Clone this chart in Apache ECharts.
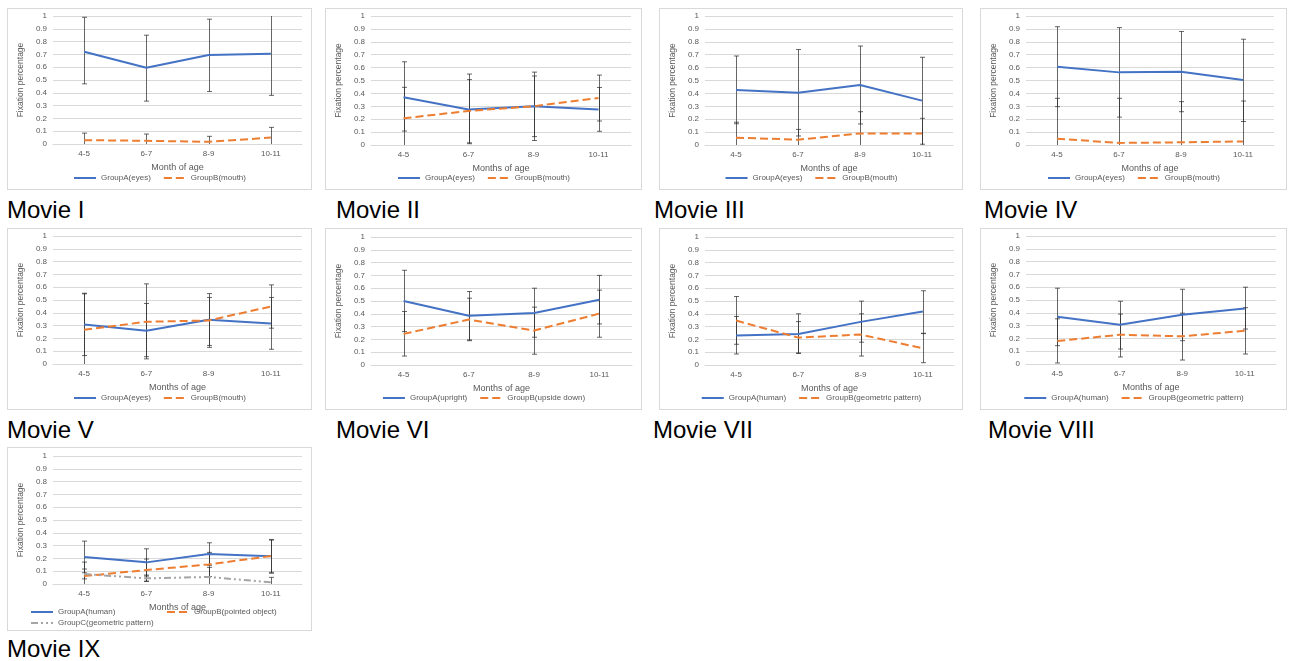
<!DOCTYPE html>
<html>
<head>
<meta charset="utf-8">
<script src="https://cdn.jsdelivr.net/npm/echarts@6/dist/echarts.min.js"></script>
<style>
  body { margin: 0; background: #fff; width: 1290px; height: 661px; position: relative; overflow: hidden; font-family: "Liberation Sans", Arial, sans-serif; }
  .panel { position: absolute; border: 1px solid #d9d9d9; box-sizing: border-box; background: #fff; }
  .title { position: absolute; font-size: 24px; line-height: 24px; color: #000; white-space: nowrap; }
</style>
</head>
<body>
<div id="root"></div>
<script>
// categories
const ages = ['4-5', '6-7', '8-9', '10-11'];

// Movie I
const m1A = [0.72, 0.595, 0.695, 0.705];
const m1ALow = [0.47, 0.335, 0.41, 0.38];
const m1AHigh = [0.99, 0.85, 0.975, 1.03];
const m1B = [0.03, 0.025, 0.017, 0.05];
const m1BLow = [-0.025, -0.03, -0.025, -0.03];
const m1BHigh = [0.085, 0.078, 0.06, 0.13];

// Movie II
const m2A = [0.37, 0.276, 0.30, 0.276];
const m2ALow = [0.108, 0.01, 0.035, 0.106];
const m2AHigh = [0.645, 0.55, 0.565, 0.446];
const m2B = [0.207, 0.264, 0.30, 0.364];
const m2BLow = [-0.03, 0.017, 0.065, 0.186];
const m2BHigh = [0.447, 0.507, 0.535, 0.542];

// Movie III
const m3A = [0.426, 0.405, 0.465, 0.344];
const m3ALow = [0.165, 0.07, 0.163, 0.006];
const m3AHigh = [0.69, 0.74, 0.767, 0.68];
const m3B = [0.057, 0.041, 0.09, 0.09];
const m3BLow = [-0.06, -0.04, -0.08, -0.027];
const m3BHigh = [0.177, 0.121, 0.258, 0.207];

// Movie IV
const m4A = [0.607, 0.563, 0.568, 0.504];
const m4ALow = [0.297, 0.216, 0.258, 0.182];
const m4AHigh = [0.917, 0.91, 0.88, 0.82];
const m4B = [0.049, 0.016, 0.021, 0.028];
const m4BLow = [-0.26, -0.33, -0.29, -0.285];
const m4BHigh = [0.362, 0.362, 0.336, 0.341];

// Movie V
const m5A = [0.309, 0.26, 0.345, 0.317];
const m5ALow = [0.066, 0.057, 0.145, 0.115];
const m5AHigh = [0.553, 0.473, 0.55, 0.52];
const m5B = [0.268, 0.33, 0.34, 0.449];
const m5BLow = [-0.012, 0.04, 0.13, 0.28];
const m5BHigh = [0.548, 0.626, 0.52, 0.618];

// Movie VI
const m6A = [0.50, 0.384, 0.407, 0.509];
const m6ALow = [0.261, 0.196, 0.217, 0.321];
const m6AHigh = [0.74, 0.574, 0.60, 0.70];
const m6B = [0.243, 0.355, 0.269, 0.402];
const m6BLow = [0.07, 0.19, 0.084, 0.217];
const m6BHigh = [0.418, 0.522, 0.452, 0.585];

// Movie VII
const m7A = [0.23, 0.243, 0.337, 0.418];
const m7ALow = [0.086, 0.094, 0.178, 0.248];
const m7AHigh = [0.379, 0.40, 0.499, 0.58];
const m7B = [0.347, 0.214, 0.238, 0.13];
const m7BLow = [0.162, 0.09, 0.07, 0.018];
const m7BHigh = [0.535, 0.339, 0.40, 0.245];

// Movie VIII
const m8A = [0.369, 0.306, 0.384, 0.434];
const m8ALow = [0.143, 0.117, 0.182, 0.273];
const m8AHigh = [0.592, 0.49, 0.584, 0.60];
const m8B = [0.179, 0.229, 0.216, 0.26];
const m8BLow = [0.008, 0.055, 0.031, 0.078];
const m8BHigh = [0.353, 0.39, 0.397, 0.44];

// Movie IX
const m9A = [0.21, 0.169, 0.234, 0.216];
const m9ALow = [0.088, 0.062, 0.146, 0.084];
const m9AHigh = [0.335, 0.275, 0.322, 0.348];
const m9B = [0.062, 0.109, 0.153, 0.218];
const m9BLow = [-0.048, 0.022, 0.058, 0.091];
const m9BHigh = [0.171, 0.195, 0.247, 0.343];
const m9C = [0.078, 0.044, 0.055, 0.013];
const m9CLow = [0.04, 0.02, -0.02, -0.027];
const m9CHigh = [0.117, 0.07, 0.13, 0.052];

const BLUE = '#4472c4';
const ORANGE = '#ed7d31';
const GREY = '#a5a5a5';
const TXT = '#595959';
const ERR = 'rgba(45,45,45,0.72)';

const panels = [
  { title: 'Movie I', tx: 7, ty: 198, box: [7, 8, 305, 182], grid: [39, 9, 7, 45], xName: 'Month of age',
    series: [
      { name: 'GroupA(eyes)', v: m1A, lo: m1ALow, hi: m1AHigh, color: BLUE, dash: 'solid' },
      { name: 'GroupB(mouth)', v: m1B, lo: m1BLow, hi: m1BHigh, color: ORANGE, dash: 'dashed' }
    ] },
  { title: 'Movie II', tx: 336, ty: 198, box: [325, 8, 317, 182], grid: [42, 10, 7, 44], xName: 'Months of age',
    series: [
      { name: 'GroupA(eyes)', v: m2A, lo: m2ALow, hi: m2AHigh, color: BLUE, dash: 'solid' },
      { name: 'GroupB(mouth)', v: m2B, lo: m2BLow, hi: m2BHigh, color: ORANGE, dash: 'dashed' }
    ] },
  { title: 'Movie III', tx: 654, ty: 198, box: [659, 8, 304, 182], grid: [39, 9, 7, 44], xName: 'Months of age',
    series: [
      { name: 'GroupA(eyes)', v: m3A, lo: m3ALow, hi: m3AHigh, color: BLUE, dash: 'solid' },
      { name: 'GroupB(mouth)', v: m3B, lo: m3BLow, hi: m3BHigh, color: ORANGE, dash: 'dashed' }
    ] },
  { title: 'Movie IV', tx: 984, ty: 198, box: [980, 8, 307, 182], grid: [39, 12, 7, 44], xName: 'Months of age',
    series: [
      { name: 'GroupA(eyes)', v: m4A, lo: m4ALow, hi: m4AHigh, color: BLUE, dash: 'solid' },
      { name: 'GroupB(mouth)', v: m4B, lo: m4BLow, hi: m4BHigh, color: ORANGE, dash: 'dashed' }
    ] },
  { title: 'Movie V', tx: 7, ty: 418, box: [7, 228, 305, 182], grid: [40, 9, 7, 45], xName: 'Months of age',
    series: [
      { name: 'GroupA(eyes)', v: m5A, lo: m5ALow, hi: m5AHigh, color: BLUE, dash: 'solid' },
      { name: 'GroupB(mouth)', v: m5B, lo: m5BLow, hi: m5BHigh, color: ORANGE, dash: 'dashed' }
    ] },
  { title: 'Movie VI', tx: 336, ty: 418, box: [325, 228, 317, 182], grid: [41, 9, 8, 44], xName: 'Months of age',
    series: [
      { name: 'GroupA(upright)', v: m6A, lo: m6ALow, hi: m6AHigh, color: BLUE, dash: 'solid' },
      { name: 'GroupB(upside down)', v: m6B, lo: m6BLow, hi: m6BHigh, color: ORANGE, dash: 'dashed' }
    ] },
  { title: 'Movie VII', tx: 653, ty: 418, box: [659, 228, 304, 182], grid: [39, 8, 8, 44], xName: 'Months of age',
    series: [
      { name: 'GroupA(human)', v: m7A, lo: m7ALow, hi: m7AHigh, color: BLUE, dash: 'solid' },
      { name: 'GroupB(geometric pattern)', v: m7B, lo: m7BLow, hi: m7BHigh, color: ORANGE, dash: 'dashed' }
    ] },
  { title: 'Movie VIII', tx: 988, ty: 418, box: [980, 228, 307, 182], grid: [40, 10, 7, 45], xName: 'Months of age',
    series: [
      { name: 'GroupA(human)', v: m8A, lo: m8ALow, hi: m8AHigh, color: BLUE, dash: 'solid' },
      { name: 'GroupB(geometric pattern)', v: m8B, lo: m8BLow, hi: m8BHigh, color: ORANGE, dash: 'dashed' }
    ] },
  { title: 'Movie IX', tx: 7, ty: 637, box: [7, 447, 305, 184], grid: [40, 9, 8, 46], xName: 'Months of age',
    legendRows: [[22, 160], [158, 160], [22, 171]],
    series: [
      { name: 'GroupA(human)', v: m9A, lo: m9ALow, hi: m9AHigh, color: BLUE, dash: 'solid' },
      { name: 'GroupB(pointed object)', v: m9B, lo: m9BLow, hi: m9BHigh, color: ORANGE, dash: 'dashed' },
      { name: 'GroupC(geometric pattern)', v: m9C, lo: m9CLow, hi: m9CHigh, color: GREY, dash: [7, 3, 2, 3, 2, 3] }
    ] }
];

// error bar: vertical line with small caps, clipped to 0..1
function renderErr(params, api) {
  const x = api.value(0);
  const lo = api.value(1);
  const hi = api.value(2);
  const top = api.coord([x, Math.min(hi, 1)]);
  const bot = api.coord([x, Math.max(lo, 0)]);
  const cx = Math.round(top[0]) + 0.5;
  const style = { stroke: ERR, lineWidth: 1 };
  const kids = [{ type: 'line', shape: { x1: cx, y1: top[1], x2: cx, y2: bot[1] }, style: style }];
  if (hi <= 1) kids.push({ type: 'line', shape: { x1: cx - 2.5, y1: top[1], x2: cx + 2.5, y2: top[1] }, style: style });
  if (lo >= 0) kids.push({ type: 'line', shape: { x1: cx - 2.5, y1: bot[1], x2: cx + 2.5, y2: bot[1] }, style: style });
  return { type: 'group', children: kids };
}

const root = document.getElementById('root');

panels.forEach(function (p) {
  const div = document.createElement('div');
  div.className = 'panel';
  div.style.left = p.box[0] + 'px';
  div.style.top = p.box[1] + 'px';
  div.style.width = p.box[2] + 'px';
  div.style.height = p.box[3] + 'px';
  root.appendChild(div);

  const t = document.createElement('div');
  t.className = 'title';
  t.style.left = p.tx + 'px';
  t.style.top = p.ty + 'px';
  t.textContent = p.title;
  root.appendChild(t);

  const series = [];
  p.series.forEach(function (s) {
    series.push({
      type: 'custom',
      silent: true,
      z: 1,
      renderItem: renderErr,
      data: s.v.map(function (v, i) { return [i, s.lo[i], s.hi[i]]; })
    });
  });
  p.series.forEach(function (s) {
    series.push({
      name: s.name,
      type: 'line',
      z: 3,
      symbol: 'none',
      data: s.v,
      lineStyle: { color: s.color, width: 2, type: s.dash },
      itemStyle: { color: s.color }
    });
  });

  let legend;
  const legendBase = {
    itemWidth: 22,
    itemHeight: 8,
    padding: 0,
    itemStyle: { color: 'transparent', borderColor: 'transparent', borderWidth: 0 },
    textStyle: { color: TXT, fontSize: 8, fontFamily: 'Liberation Sans' }
  };
  if (p.legendRows) {
    legend = p.series.map(function (s, i) {
      return Object.assign({}, legendBase, {
        data: [s.name], left: p.legendRows[i][0], top: p.legendRows[i][1], itemGap: 0
      });
    });
  } else {
    legend = Object.assign({}, legendBase, {
      data: p.series.map(function (s) { return s.name; }),
      left: 'center', top: 165, itemGap: 12
    });
  }

  const chart = echarts.init(div, null, { renderer: 'canvas' });
  chart.setOption({
    animation: false,
    textStyle: { fontFamily: 'Liberation Sans' },
    grid: { left: p.grid[0], right: p.grid[1], top: p.grid[2], bottom: p.grid[3] },
    legend: legend,
    xAxis: {
      type: 'category',
      data: ages,
      boundaryGap: true,
      name: p.xName,
      nameLocation: 'middle',
      nameGap: 16,
      nameTextStyle: { color: TXT, fontSize: 9 },
      axisLine: { lineStyle: { color: '#d9d9d9' } },
      axisTick: { show: false },
      axisLabel: { color: TXT, fontSize: 8, margin: 6 }
    },
    yAxis: {
      type: 'value',
      min: 0,
      max: 1,
      interval: 0.1,
      name: 'Fixation percentage',
      nameLocation: 'middle',
      nameRotate: 90,
      nameGap: 22,
      nameTextStyle: { color: TXT, fontSize: 8.5 },
      axisLine: { show: false },
      axisTick: { show: false },
      axisLabel: { color: TXT, fontSize: 8, margin: 6 },
      splitLine: { lineStyle: { color: '#d9d9d9', width: 1 } }
    },
    series: series
  });
});
</script>
</body>
</html>
